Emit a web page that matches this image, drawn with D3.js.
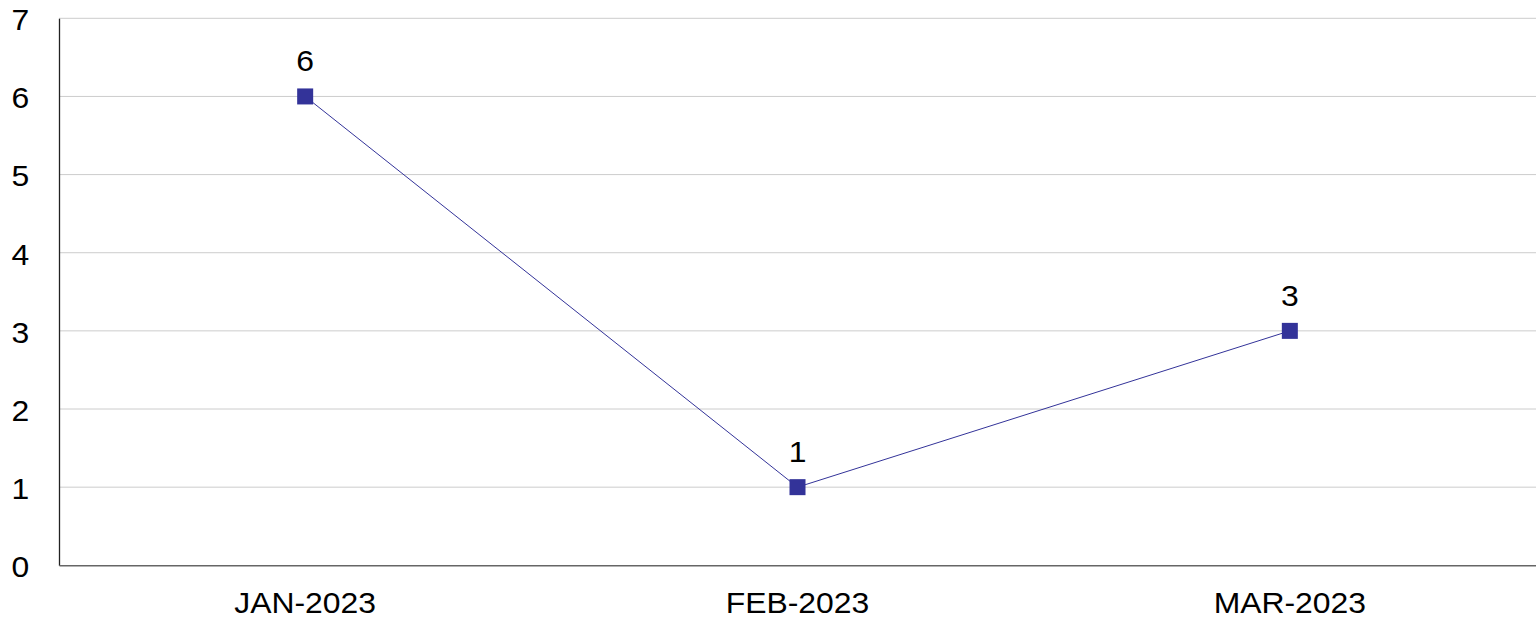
<!DOCTYPE html>
<html><head><meta charset="utf-8">
<script src="https://cdn.jsdelivr.net/npm/d3@7"></script>
<style>html,body{margin:0;padding:0;background:#fff;}svg{display:block;}</style>
</head><body>
<svg id="chart" width="1536" height="618"></svg>
<script>
const categories = ["JAN-2023", "FEB-2023", "MAR-2023"];
const values = [6, 1, 3];
const yTicks = [0, 1, 2, 3, 4, 5, 6, 7];

const W = 1536, H = 618;
const m = {left: 59, right: 0, top: 18.3, bottom: H - 565.3};
const svg = d3.select("#chart");
const font = "Liberation Sans, Arial, sans-serif";
const fs = 29, sx = 1.1;

const x = d3.scaleBand().domain(categories).range([m.left, W - m.right]);
const y = d3.scaleLinear().domain([0, 7]).range([H - m.bottom, m.top]);

// gridlines
svg.append("g").selectAll("line").data(yTicks.filter(d => d > 0)).join("line")
  .attr("x1", m.left).attr("x2", W).attr("y1", d => y(d)).attr("y2", d => y(d))
  .attr("stroke", "#cccccc").attr("stroke-width", 1);

// y axis
const ya = svg.append("g").attr("transform", `translate(${m.left},0)`)
  .call(d3.axisLeft(y).tickValues(yTicks).tickFormat(d3.format("d")).tickSize(0).tickPadding(27));
ya.select(".domain").attr("stroke", "#222").attr("stroke-width", 1.3);
ya.selectAll("text").attr("font-family", font).attr("font-size", fs).attr("fill", "#000")
  .attr("dy", "0.39em").attr("transform", `scale(${sx},1)`);

// x axis
const xa = svg.append("g").attr("transform", `translate(0,${H - m.bottom})`)
  .call(d3.axisBottom(x).tickSize(0).tickPadding(0));
xa.select(".domain").attr("stroke", "#666").attr("stroke-width", 1.6);
xa.selectAll("text").attr("font-family", font).attr("font-size", fs).attr("fill", "#000")
  .attr("y", 47.4).attr("dy", 0).attr("transform", `scale(${sx},1)`);

const pts = categories.map((c, i) => ({c, v: values[i]}));
const line = d3.line().x(d => x(d.c) + x.bandwidth() / 2).y(d => y(d.v));
svg.append("path").datum(pts).attr("d", line).attr("fill", "none")
  .attr("stroke", "#333399").attr("stroke-width", 1);

svg.append("g").selectAll("rect").data(pts).join("rect")
  .attr("x", d => x(d.c) + x.bandwidth() / 2 - 8).attr("y", d => y(d.v) - 8)
  .attr("width", 16).attr("height", 16).attr("fill", "#333399");

svg.append("g").selectAll("text").data(pts).join("text")
  .attr("transform", d => `translate(${x(d.c) + x.bandwidth() / 2},${y(d.v) - 25}) scale(${sx},1)`)
  .attr("text-anchor", "middle").attr("font-family", font).attr("font-size", fs).attr("fill", "#000")
  .text(d => d.v);
</script>
</body></html>
